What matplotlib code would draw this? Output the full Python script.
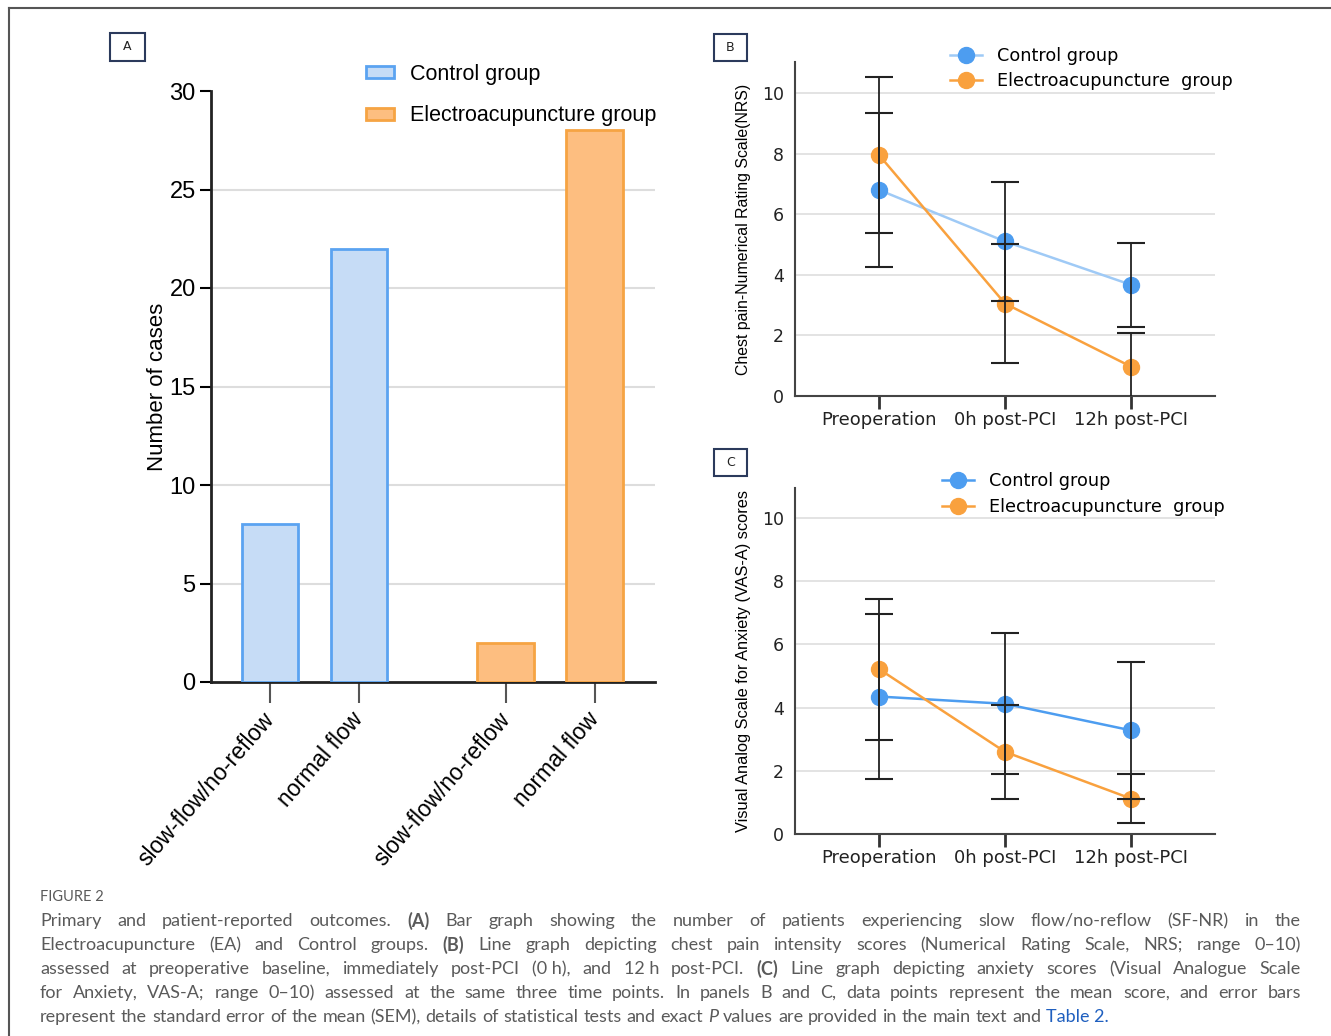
import matplotlib
matplotlib.use('Agg')
import matplotlib.pyplot as plt
from matplotlib.lines import Line2D
from matplotlib.patches import Rectangle, Patch

# panel A data
bar_labels = ['slow-flow/no-reflow', 'normal flow', 'slow-flow/no-reflow', 'normal flow']
control_counts = [8, 22]
ea_counts = [2, 28]

# panels B and C data
timepoints = ['Preoperation', '0h post-PCI', '12h post-PCI']
nrs_control = [6.8, 5.1, 3.67]
nrs_control_err = [2.53, 1.95, 1.38]
nrs_ea = [7.95, 3.05, 0.97]
nrs_ea_err = [2.58, 1.95, 1.1]
vas_control = [4.35, 4.12, 3.28]
vas_control_err = [2.6, 2.23, 2.17]
vas_ea = [5.22, 2.6, 1.12]
vas_ea_err = [2.23, 1.48, 0.78]

caption_lines = [
    "Primary and patient-reported outcomes. (A) Bar graph showing the number of patients experiencing slow flow/no-reflow (SF-NR) in the",
    "Electroacupuncture (EA) and Control groups. (B) Line graph depicting chest pain intensity scores (Numerical Rating Scale, NRS; range 0\u201310)",
    "assessed at preoperative baseline, immediately post-PCI (0~h), and 12~h post-PCI. (C) Line graph depicting anxiety scores (Visual Analogue Scale",
    "for Anxiety, VAS-A; range 0\u201310) assessed at the same three time points. In panels B and C, data points represent the mean score, and error bars",
    "represent the standard error of the mean (SEM), details of statistical tests and exact P values are provided in the main text and Table~2.",
]

plt.rcParams['font.family'] = 'DejaVu Sans'

W, H = 1331, 1036
fig = plt.figure(figsize=(W / 100, H / 100), dpi=100)


def fx(px):
    return px / W


def fy(py):
    return 1 - py / H


arial = 'Liberation Sans'
ctrl_fill, ctrl_edge = '#c6dcf6', '#5ba3f1'
ea_fill, ea_edge = '#fdbe80', '#f6a443'
blue, blue_light, orange = '#4d9df0', '#9fcaf6', '#f9a13e'

# outer frame
fig.add_artist(Line2D([fx(9), 1], [fy(8), fy(8)], color='#555555', lw=1.5, transform=fig.transFigure))
fig.add_artist(Line2D([fx(9), fx(9)], [fy(8), 0], color='#555555', lw=1.5, transform=fig.transFigure))

# panel letters
for letter, (x0, y0, x1, y1) in zip('ABC', [(110, 33, 145, 61), (714, 34, 747, 61), (714, 449, 747, 476)]):
    fig.add_artist(Rectangle((fx(x0), fy(y1)), fx(x1) - fx(x0), fy(y0) - fy(y1), fill=False,
                             edgecolor='#2b3a5c', lw=1.5, transform=fig.transFigure))
    fig.text(fx((x0 + x1) / 2), fy((y0 + y1) / 2), letter, ha='center', va='center', fontsize=9, color='#222222')

# ---- panel A ----
axA = fig.add_axes([fx(211), fy(682), fx(655) - fx(211), fy(91) - fy(682)])
pos = [0, 1, 2.65, 3.65]
axA.bar(pos[:2], control_counts, width=0.64, color=ctrl_fill, edgecolor=ctrl_edge, lw=2, zorder=3)
axA.bar(pos[2:], ea_counts, width=0.64, color=ea_fill, edgecolor=ea_edge, lw=2, zorder=3)
axA.set_xlim(-0.663, 4.326)
axA.set_ylim(0, 30)
axA.set_yticks(range(0, 31, 5))
for v in range(5, 30, 5):
    axA.axhline(v, color='#dddddd', lw=1.5, zorder=0)
axA.set_xticks(pos)
axA.set_xticklabels(bar_labels, rotation=49, ha='right', va='center', rotation_mode='anchor',
                    family=arial, fontsize=16.5)
axA.tick_params(axis='x', length=15, width=1.5, color='#555555', pad=9)
axA.tick_params(axis='y', length=8, width=1.5, labelsize=17, pad=3)
for lab in axA.get_yticklabels():
    lab.set_family(arial)
for s in ['top', 'right']:
    axA.spines[s].set_visible(False)
for s in ['left', 'bottom']:
    axA.spines[s].set_linewidth(2)
    axA.spines[s].set_color('#222222')
axA.set_ylabel('Number of cases', family=arial, fontsize=16, labelpad=1)
axA.legend(handles=[Patch(facecolor=ctrl_fill, edgecolor=ctrl_edge, lw=2, label='Control group'),
                    Patch(facecolor=ea_fill, edgecolor=ea_edge, lw=2, label='Electroacupuncture group')],
           loc='upper left', bbox_to_anchor=(fx(366), fy(64)), bbox_transform=fig.transFigure,
           frameon=False, prop={'family': arial, 'size': 15.5}, handlelength=1.3, handleheight=0.5,
           handletextpad=0.75, labelspacing=0.95, borderpad=0, borderaxespad=0)


# ---- panels B and C ----
def line_panel(rect, top, ctrl, ctrl_err, ea, ea_err, ylabel, ysize, ctrl_line, leg_xy, leg_space):
    ax = fig.add_axes(rect)
    x = range(len(timepoints))
    ax.plot(x, ctrl, color=ctrl_line, lw=1.8, zorder=3)
    ax.plot(x, ea, color=orange, lw=1.8, zorder=3)
    ax.plot(x, ctrl, 'o', color=blue, ms=11.5, zorder=4)
    ax.plot(x, ea, 'o', color=orange, ms=11.5, zorder=4)
    ax.errorbar(x, ctrl, yerr=ctrl_err, fmt='none', ecolor='#222222', elinewidth=1.3, capsize=10, capthick=1.5, zorder=5)
    ax.errorbar(x, ea, yerr=ea_err, fmt='none', ecolor='#222222', elinewidth=1.3, capsize=10, capthick=1.5, zorder=5)
    ax.set_xlim(-0.667, 2.667)
    ax.set_ylim(0, top)
    ax.set_yticks(range(0, 11, 2))
    for v in range(2, 11, 2):
        ax.axhline(v, color='#e0e0e0', lw=1.3, zorder=0)
    ax.set_xticks(list(x))
    ax.set_xticklabels(timepoints)
    ax.tick_params(axis='x', length=9, width=2, color='#333333', labelsize=13, labelcolor='#222222', pad=1.5)
    ax.tick_params(axis='y', length=0, labelsize=12.5, labelcolor='#222222', pad=8)
    for s in ['top', 'right']:
        ax.spines[s].set_visible(False)
    for s in ['left', 'bottom']:
        ax.spines[s].set_linewidth(1.5)
        ax.spines[s].set_color('#444444')
    ax.set_ylabel(ylabel, family=arial, fontsize=ysize, labelpad=8)
    handles = [Line2D([], [], color=ctrl_line, lw=1.8, marker='o', ms=11.5, mfc=blue, mec=blue, label='Control group'),
               Line2D([], [], color=orange, lw=1.8, marker='o', ms=11.5, mfc=orange, mec=orange,
                      label='Electroacupuncture  group')]
    ax.legend(handles=handles, loc='upper left', bbox_to_anchor=leg_xy, bbox_transform=fig.transFigure,
              frameon=False, fontsize=12.7, handlelength=1.8, handletextpad=0.85, labelspacing=leg_space,
              borderpad=0, borderaxespad=0)
    return ax


line_panel([fx(795), fy(396), fx(1215) - fx(795), fy(62) - fy(396)], 11.02,
           nrs_control, nrs_control_err, nrs_ea, nrs_ea_err,
           'Chest pain-Numerical Rating Scale(NRS)', 11.4, blue_light, (fx(950), fy(47)), 0.42)
line_panel([fx(795), fy(834), fx(1215) - fx(795), fy(488) - fy(834)], 10.95,
           vas_control, vas_control_err, vas_ea, vas_ea_err,
           'Visual Analog Scale for Anxiety (VAS-A) scores', 11.8, blue, (fx(942), fy(472)), 0.48)

# ---- caption ----
cap_color = '#5a5a5a'
fig.text(fx(40), fy(897), 'FIGURE 2', family='Lato', fontsize=10.5, color=cap_color, va='center')
renderer = fig.canvas.get_renderer()
x_left, x_right = fx(40), fx(1301)
for i, line in enumerate(caption_lines):
    y = fy(921 + 24 * i)
    words = [w.replace('~', ' ') for w in line.split(' ')]
    texts = []
    for w in words:
        kw = dict(family='Lato', fontsize=13, color=cap_color, va='center')
        if w in ('(A)', '(B)', '(C)'):
            kw['weight'] = 'bold'
        if w == 'P':
            kw['style'] = 'italic'
        if w.startswith('Table'):
            kw['color'] = '#1f5fbf'
        texts.append(fig.text(0, y, w, **kw))
    widths = [t.get_window_extent(renderer).width / W for t in texts]
    if i < len(caption_lines) - 1:
        gap = (x_right - x_left - sum(widths)) / (len(words) - 1)
    else:
        gap = 13 * 0.27 * 100 / 72 / W
    xc = x_left
    for t, w in zip(texts, widths):
        t.set_x(xc)
        xc += w + gap

fig.savefig('out.png', dpi=100)
